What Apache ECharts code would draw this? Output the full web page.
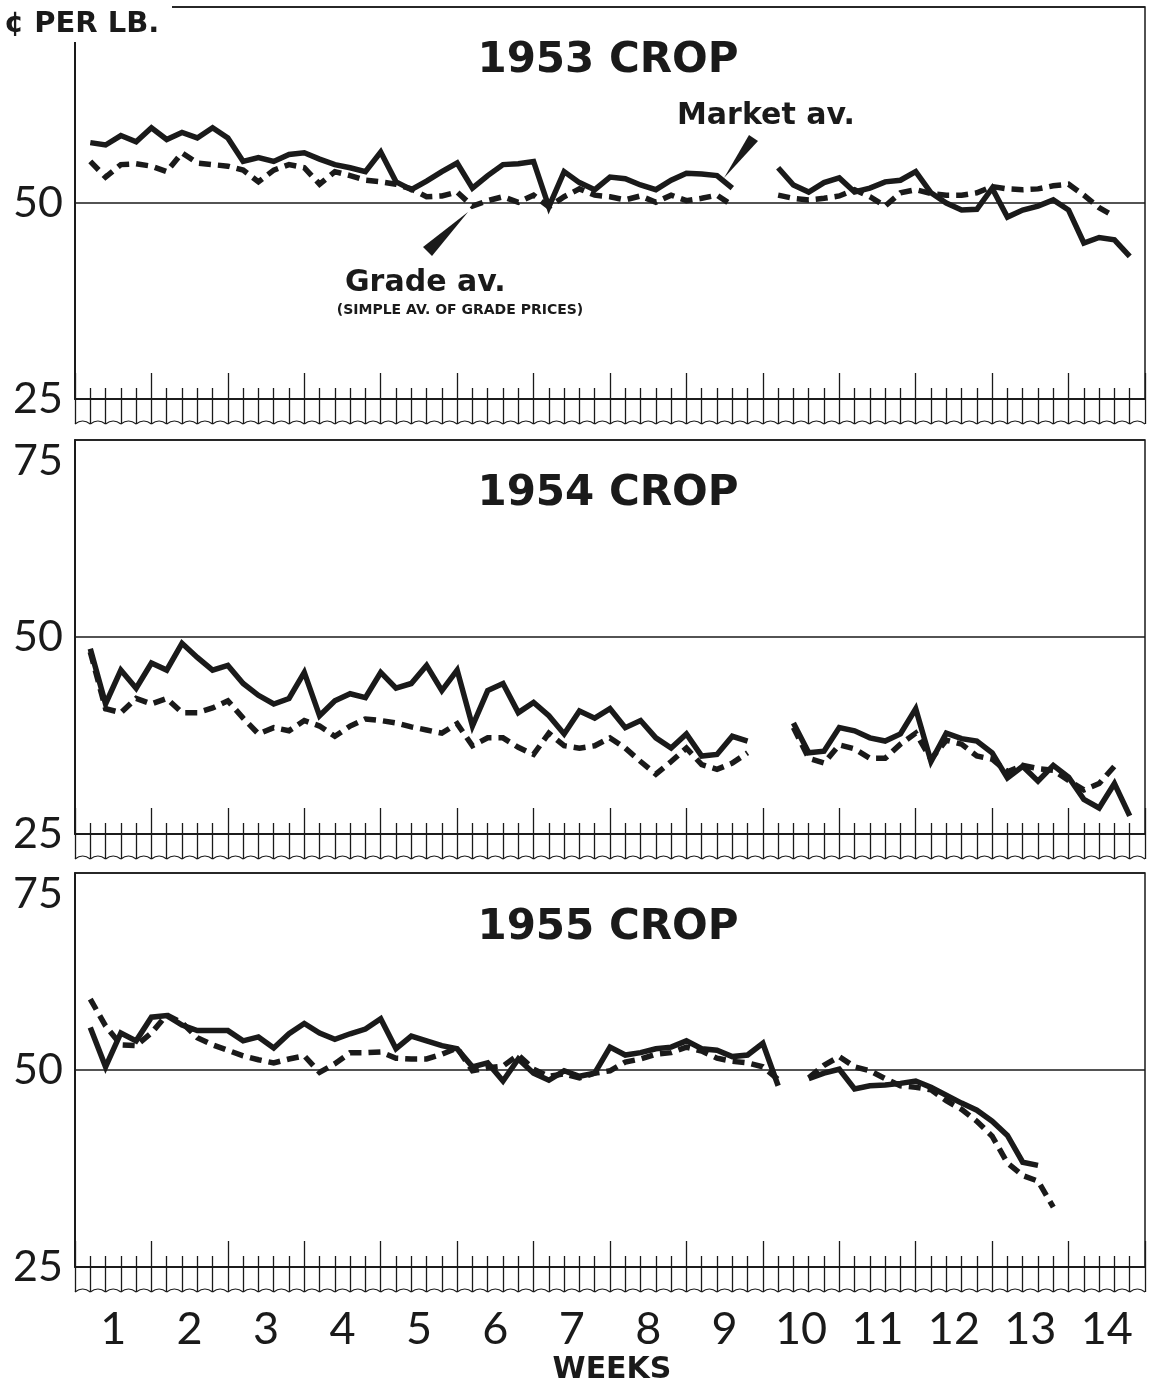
<!DOCTYPE html>
<html>
<head>
<meta charset="utf-8">
<script src="https://cdn.jsdelivr.net/npm/echarts@6/dist/echarts.min.js"></script>
<style>
  html, body { margin: 0; padding: 0; background: #fff; }
  #chart { width: 1155px; height: 1386px; }
</style>
</head>
<body>
<div id="chart"></div>
<script>
// weekly x labels, crop titles
const weekLabels = ['1', '2', '3', '4', '5', '6', '7', '8', '9', '10', '11', '12', '13', '14']
const cropTitles = ['1953 CROP', '1954 CROP', '1955 CROP']

// cents per lb, one value per market day (day 1 .. 69), null = no sale
const market1953 = [57.7, 57.4, 58.6, 57.8, 59.6, 58.1, 59.0, 58.3, 59.6, 58.3,
  55.3, 55.8, 55.3, 56.2, 56.4, 55.6, 54.9, 54.5, 54.0, 56.5,
  52.7, 51.7, 52.8, 54.0, 55.1, 51.9, 53.5, 54.9, 55.0, 55.3,
  49.5, 54.0, 52.6, 51.7, 53.3, 53.1, 52.3, 51.7, 52.9, 53.8,
  53.7, 53.5, 51.9, null, null, 54.5, 52.3, 51.4, 52.6, 53.2,
  51.4, 51.9, 52.7, 52.9, 54.0, 51.3, 50.0, 49.1, 49.2, 51.9,
  48.2, 49.1, 49.6, 50.4, 49.1, 44.9, 45.6, 45.3, 43.2]
const grade1953 = [55.3, 53.3, 54.9, 55.0, 54.7, 54.0, 56.4, 55.1, 54.9, 54.7,
  54.2, 52.7, 54.2, 54.9, 54.5, 52.4, 54.0, 53.5, 52.9, 52.7,
  52.4, 51.8, 50.8, 50.9, 51.4, 49.6, 50.3, 50.8, 50.1, 51.0,
  49.5, 50.8, 51.8, 51.0, 50.8, 50.4, 50.9, 50.1, 51.0, 50.3,
  50.6, 51.0, 49.7, null, null, 51.0, 50.6, 50.4, 50.6, 50.9,
  51.7, 50.8, 49.6, 51.3, 51.7, 51.2, 51.0, 51.0, 51.3, 52.1,
  51.8, 51.7, 51.8, 52.2, 52.4, 51.0, 49.4, 48.3]

const market1954 = [48.5, 41.5, 45.8, 43.5, 46.7, 45.8, 49.2, 47.4, 45.8, 46.4,
  44.1, 42.6, 41.5, 42.2, 45.5, 40.0, 41.9, 42.8, 42.3, 45.5,
  43.5, 44.1, 46.4, 43.2, 45.8, 38.7, 43.2, 44.1, 40.4, 41.7,
  40.0, 37.7, 40.6, 39.7, 40.9, 38.5, 39.4, 37.2, 35.9, 37.7,
  34.9, 35.1, 37.4, 36.8, null, null, 39.1, 35.3, 35.5, 38.5,
  38.1, 37.2, 36.8, 37.7, 40.9, 34.2, 37.8, 37.1, 36.8, 35.3,
  32.1, 33.6, 31.7, 33.7, 32.2, 29.4, 28.3, 31.4, 27.3]
const grade1954 = [48.1, 40.9, 40.4, 42.2, 41.5, 42.2, 40.4, 40.4, 41.0, 41.9,
  39.7, 37.7, 38.5, 38.1, 39.4, 38.7, 37.4, 38.7, 39.6, 39.4,
  39.1, 38.6, 38.2, 37.8, 39.0, 36.2, 37.2, 37.2, 36.0, 35.1,
  37.8, 36.2, 35.9, 36.2, 37.2, 35.9, 34.2, 32.6, 34.2, 35.9,
  33.8, 33.2, 34.0, 35.3, null, null, 38.5, 34.6, 34.0, 36.3,
  35.8, 34.6, 34.6, 36.4, 37.8, 34.5, 36.9, 36.4, 34.9, 34.5,
  32.9, 33.7, 33.3, 33.1, 31.8, 30.6, 31.4, 33.6]

const market1955 = [55.4, 50.4, 54.7, 53.7, 56.7, 56.9, 55.7, 55.0, 55.0, 55.0,
  53.7, 54.2, 52.8, 54.6, 55.9, 54.7, 53.9, 54.6, 55.2, 56.5,
  52.7, 54.3, 53.7, 53.1, 52.7, 50.4, 50.9, 48.6, 51.4, 49.6,
  48.7, 49.9, 49.2, 49.6, 52.9, 51.9, 52.2, 52.7, 52.9, 53.7,
  52.7, 52.5, 51.7, 51.9, 53.4, 48.0, null, 48.9, 49.6, 50.1,
  47.6, 48.0, 48.1, 48.3, 48.6, 47.8, 46.8, 45.8, 44.9, 43.5,
  41.7, 38.3, 37.9]
const grade1955 = [59.0, 55.6, 53.2, 53.1, 54.7, 57.0, 56.0, 54.1, 53.2, 52.5,
  51.8, 51.3, 50.9, 51.4, 51.8, 49.7, 50.8, 52.2, 52.2, 52.3,
  51.5, 51.4, 51.4, 52.0, 52.8, 49.9, 50.3, 50.5, 51.9, 50.1,
  49.2, 49.5, 49.0, 49.6, 49.9, 51.0, 51.4, 52.0, 52.2, 52.9,
  52.4, 51.5, 51.1, 50.9, 50.4, 48.8, null, 49.0, 50.6, 51.7,
  50.4, 49.9, 48.9, 48.0, 47.8, 47.5, 46.1, 45.0, 43.5, 41.6,
  38.2, 36.6, 35.9, 32.6]

const ink = '#1a1a1a'
const numFont = 'Lato, "DejaVu Sans", sans-serif'
const boldFont = '"DejaVu Sans", sans-serif'

const panels = [
  { top: 7, height: 392, title: cropTitles[0], titleY: 61, market: market1953, grade: grade1953 },
  { top: 440, height: 394, title: cropTitles[1], titleY: 494, market: market1954, grade: grade1954 },
  { top: 873, height: 394, title: cropTitles[2], titleY: 928, market: market1955, grade: grade1955 }
]

// day index for each value (position in its array)
const toPoints = arr => arr.map((v, i) => [i + 1, v === null ? '-' : v])
// one scallop per day along the broken baseline
const scallops = weekLabels.flatMap((w, k) => [0, 1, 2, 3, 4].map(d => [k * 5 + d, 25]))

const grid = []
const xAxis = []
const yAxis = []
const series = []
const graphic = []

panels.forEach((p, i) => {
  grid.push({
    left: 75, right: 10, top: p.top, height: p.height,
    show: true, borderColor: ink, borderWidth: 1.5, backgroundColor: 'transparent'
  })
  const xMain = xAxis.length
  // long ticks every week, short ticks every day, pointing up
  xAxis.push({
    gridIndex: i, type: 'value', min: 0, max: 70, interval: 5, position: 'bottom',
    axisLine: { show: true, onZero: false, lineStyle: { color: ink, width: 1.6 } },
    axisTick: { show: true, inside: true, length: 26, lineStyle: { color: ink, width: 1.3 } },
    minorTick: { show: true, splitNumber: 5, length: 11, lineStyle: { color: ink, width: 1.3 } },
    axisLabel: { show: false },
    splitLine: { show: false },
    minorSplitLine: { show: false }
  })
  // day ticks hanging down to the break line
  xAxis.push({
    gridIndex: i, type: 'value', min: 0, max: 70, interval: 1, position: 'bottom',
    axisLine: { show: false, onZero: false },
    axisTick: { show: true, inside: false, length: 25, lineStyle: { color: ink, width: 1.3 } },
    axisLabel: { show: false },
    splitLine: { show: false }
  })
  if (i === 2) {
    xAxis.push({
      gridIndex: i, type: 'category', data: weekLabels, position: 'bottom', boundaryGap: true,
      axisLine: { show: false, onZero: false },
      axisTick: { show: false },
      axisLabel: { margin: 40, fontSize: 45, fontFamily: numFont, color: ink }
    })
  }
  yAxis.push({
    gridIndex: i, type: 'value', min: 25, max: 75, interval: 25,
    axisLine: { show: true, lineStyle: { color: ink, width: 2 } },
    axisTick: { show: false },
    axisLabel: {
      margin: 12, fontSize: 43, fontFamily: numFont, color: ink,
      showMaxLabel: i !== 0,
      formatter: v => v === 75 ? '{low|75}' : String(v),
      rich: { low: { fontSize: 43, fontFamily: numFont, color: ink, padding: [42, 0, 0, 0] } }
    },
    splitLine: { show: true, lineStyle: { color: ink, width: 1.5 } }
  })

  series.push({
    name: 'Market av.', type: 'line', xAxisIndex: xMain, yAxisIndex: i,
    data: toPoints(p.market), symbol: 'none', connectNulls: false,
    lineStyle: { color: ink, width: 5.5, join: 'miter' }, z: 5
  })
  series.push({
    name: 'Grade av.', type: 'line', xAxisIndex: xMain, yAxisIndex: i,
    data: toPoints(p.grade), symbol: 'none', connectNulls: false,
    lineStyle: { color: ink, width: 5.5, type: [12, 7], cap: 'butt', join: 'miter' }, z: 4
  })
  series.push({
    type: 'custom', xAxisIndex: xMain, yAxisIndex: i, clip: false, silent: true,
    data: scallops,
    renderItem: (params, api) => {
      const d = api.value(0)
      const a = api.coord([d, 25])
      const b = api.coord([d + 1, 25])
      return {
        type: 'bezierCurve',
        shape: { x1: a[0], y1: a[1] + 25, x2: b[0], y2: b[1] + 25, cpx1: (a[0] + b[0]) / 2, cpy1: a[1] + 19 },
        style: { stroke: ink, fill: null, lineWidth: 1.2 }
      }
    }
  })

  graphic.push({
    type: 'text', x: 608, y: p.titleY, z: 10,
    style: { text: p.title, font: 'bold 42px ' + boldFont, fill: ink, align: 'center', verticalAlign: 'middle', textAlign: 'center', textVerticalAlign: 'middle' }
  })
})

// unit label; its white box breaks the top-left corner of the frame
graphic.push({
  type: 'rect', x: 0, y: 0, z: 20, shape: { width: 172, height: 42 }, style: { fill: '#fff' }
})
graphic.push({
  type: 'text', x: 4, y: 24, z: 21,
  style: { text: '¢ PER LB.', font: 'bold 29px ' + boldFont, fill: ink, verticalAlign: 'middle', textVerticalAlign: 'middle' }
})
graphic.push({
  type: 'text', x: 612, y: 1370, z: 10,
  style: { text: 'WEEKS', font: 'bold 30px ' + boldFont, fill: ink, align: 'center', verticalAlign: 'middle', textAlign: 'center', textVerticalAlign: 'middle' }
})
// callouts
graphic.push({
  type: 'text', x: 677, y: 116, z: 10,
  style: { text: 'Market av.', font: 'bold 30px ' + boldFont, fill: ink, verticalAlign: 'middle', textVerticalAlign: 'middle' }
})
graphic.push({
  type: 'polygon', z: 10, shape: { points: [[724, 178], [749, 135], [758, 141]] }, style: { fill: ink }
})
graphic.push({
  type: 'text', x: 345, y: 283, z: 10,
  style: { text: 'Grade av.', font: 'bold 30px ' + boldFont, fill: ink, verticalAlign: 'middle', textVerticalAlign: 'middle' }
})
graphic.push({
  type: 'text', x: 460, y: 310, z: 10,
  style: { text: '(SIMPLE AV. OF GRADE PRICES)', font: 'bold 14px ' + boldFont, fill: ink, align: 'center', verticalAlign: 'middle', textAlign: 'center', textVerticalAlign: 'middle' }
})
graphic.push({
  type: 'polygon', z: 10, shape: { points: [[423, 247], [468, 212], [432, 256]] }, style: { fill: ink }
})

const myChart = echarts.init(document.getElementById('chart'))
myChart.setOption({
  animation: false,
  backgroundColor: '#fff',
  grid: grid,
  xAxis: xAxis,
  yAxis: yAxis,
  series: series,
  graphic: graphic
})
</script>
</body>
</html>
